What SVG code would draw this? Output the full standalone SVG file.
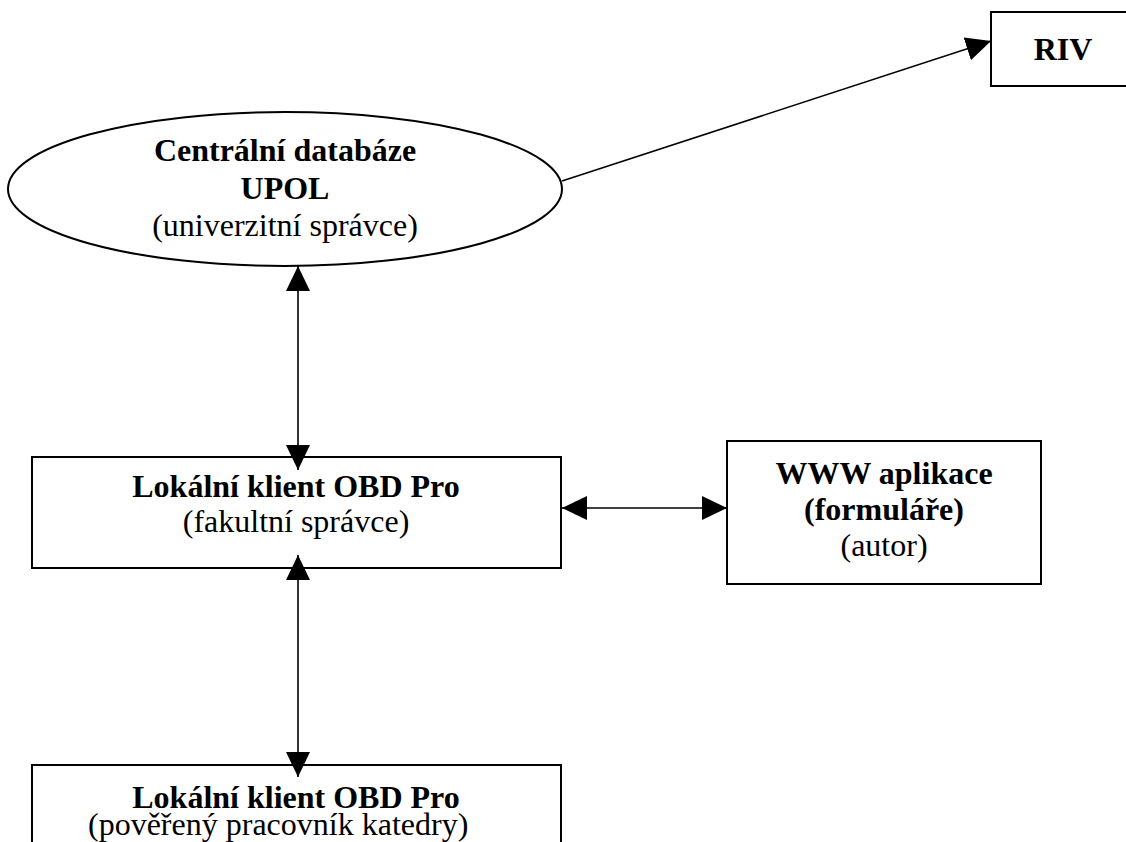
<svg xmlns="http://www.w3.org/2000/svg" width="1126" height="842" viewBox="0 0 1126 842">
<style>
.shape{fill:#fff;stroke:#000;stroke-width:2}
.b{font-family:"Liberation Serif","Times New Roman",serif;font-size:32px;font-weight:bold;fill:#000;text-anchor:middle}
.r{font-family:"Liberation Serif","Times New Roman",serif;font-size:32px;fill:#000;text-anchor:middle}
.conn{fill:none;stroke:#000;stroke-width:1.6}
</style>
<defs>
<marker id="ah" markerUnits="userSpaceOnUse" markerWidth="26" markerHeight="24" refX="25" refY="12" orient="auto-start-reverse">
<path d="M0,0 L25,12 L0,24 z" fill="#000"/>
</marker>
</defs>
<rect width="1126" height="842" fill="#fff"/>
<g id="riv">
<rect class="shape" x="991" y="12" width="145" height="74"/>
<text class="b" x="1063" y="60">RIV</text>
</g>
<g id="central">
<ellipse class="shape" cx="285" cy="189" rx="277" ry="77"/>
<text class="b" x="285" y="161">Centrální databáze</text>
<text class="b" x="285" y="199">UPOL</text>
<text class="r" x="285" y="236">(univerzitní správce)</text>
</g>
<g id="local1">
<rect class="shape" x="32" y="457" width="529" height="111"/>
<text class="b" x="296" y="497">Lokální klient OBD Pro</text>
<text class="r" x="296" y="532">(fakultní správce)</text>
</g>
<g id="www">
<rect class="shape" x="727" y="441" width="314" height="143"/>
<text class="b" x="884" y="484">WWW aplikace</text>
<text class="b" x="884" y="520">(formuláře)</text>
<text class="r" x="884" y="556">(autor)</text>
</g>
<g id="local2">
<rect class="shape" x="32" y="765" width="529" height="100"/>
<text class="b" x="296" y="808">Lokální klient OBD Pro</text>
<text class="r" x="88" y="835" style="text-anchor:start">(pověřený pracovník katedry)</text>
</g>
<g id="connectors">
<line class="conn" x1="562" y1="181" x2="991" y2="41" marker-end="url(#ah)"/>
<line class="conn" x1="298" y1="266" x2="298" y2="470" marker-start="url(#ah)" marker-end="url(#ah)"/>
<line class="conn" x1="298" y1="555" x2="298" y2="777" marker-start="url(#ah)" marker-end="url(#ah)"/>
<line class="conn" x1="562" y1="508" x2="727" y2="508" marker-start="url(#ah)" marker-end="url(#ah)"/>
</g>
</svg>
